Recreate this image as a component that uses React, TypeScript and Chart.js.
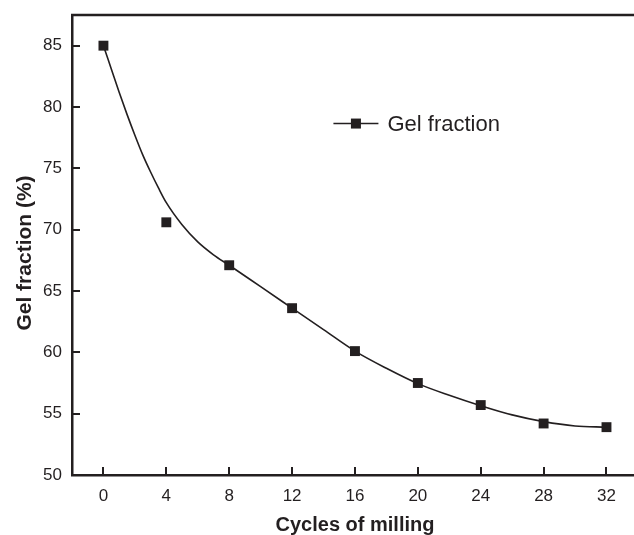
import React, { useEffect, useRef } from "react";
import { Chart, registerables } from "chart.js";

Chart.register(...registerables);

// Measured points
const cycles = [0, 4, 8, 12, 16, 20, 24, 28, 32];
const gelFraction = [85, 70.6, 67.1, 63.6, 60.1, 57.5, 55.7, 54.2, 53.9];

// Fitted curve
const curveX = [0, 0.5, 1, 1.5, 2, 2.5, 3, 3.5, 4, 5, 6, 7, 8, 10, 12, 14, 16, 18, 20, 22, 24, 26, 28, 30, 32];
const curveY = [85, 83.1, 81.2, 79.4, 77.7, 76.1, 74.7, 73.4, 72.2, 70.4, 69.0, 67.95, 67.1, 65.35, 63.6, 61.85, 60.1, 58.7, 57.45, 56.5, 55.65, 54.9, 54.35, 54.0, 53.9];

const xTicks = [0, 4, 8, 12, 16, 20, 24, 28, 32];
const yTicks = [50, 55, 60, 65, 70, 75, 80, 85];

const xTitle = "Cycles of milling";
const yTitle = "Gel fraction (%)";
const legendLabel = "Gel fraction";

const INK = "#231f20";
const FONT = "'Liberation Sans', Arial, sans-serif";

export default function App() {
  const ref = useRef<HTMLCanvasElement>(null);

  useEffect(() => {
    if (!ref.current) return;
    const frame = {
      id: "frame",
      afterDraw(chart: any) {
        const { ctx, chartArea } = chart;
        const xs = chart.scales.x;
        const ys = chart.scales.y;
        ctx.save();
        ctx.strokeStyle = INK;
        ctx.fillStyle = INK;
        ctx.lineWidth = 2.5;
        ctx.beginPath();
        ctx.moveTo(chartArea.left - 1, chartArea.top);
        ctx.lineTo(chartArea.right + 2, chartArea.top);
        ctx.stroke();
        ctx.lineWidth = 2;
        ctx.beginPath();
        for (const v of xTicks) {
          const px = Math.round(xs.getPixelForValue(v));
          ctx.moveTo(px, chartArea.bottom);
          ctx.lineTo(px, chartArea.bottom - 8);
        }
        for (const v of yTicks) {
          const py = Math.round(ys.getPixelForValue(v));
          ctx.moveTo(chartArea.left, py);
          ctx.lineTo(chartArea.left + 8, py);
        }
        ctx.stroke();
        // legend
        const lx = xs.getPixelForValue(14.63);
        const ly = ys.getPixelForValue(78.65);
        ctx.lineWidth = 1.5;
        ctx.beginPath();
        ctx.moveTo(lx, ly);
        ctx.lineTo(lx + 45, ly);
        ctx.stroke();
        ctx.fillRect(lx + 22.5 - 5, ly - 5, 10, 10);
        ctx.font = `22px ${FONT}`;
        ctx.textBaseline = "middle";
        ctx.textAlign = "left";
        ctx.fillText(legendLabel, lx + 54, ly + 1);
        // axis titles
        ctx.font = `bold 20px ${FONT}`;
        ctx.textAlign = "center";
        ctx.fillText(xTitle, (chartArea.left + chartArea.right) / 2 + 2, 525);
        ctx.save();
        ctx.translate(25, ys.getPixelForValue(68.1));
        ctx.rotate(-Math.PI / 2);
        ctx.font = `bold 21px ${FONT}`;
        ctx.fillText(yTitle, 0, 0);
        ctx.restore();
        ctx.restore();
      },
    };

    const chart = new Chart(ref.current, {
      type: "scatter",
      data: {
        datasets: [
          {
            label: "fit",
            data: curveX.map((x, i) => ({ x, y: curveY[i] })),
            showLine: true,
            borderColor: INK,
            borderWidth: 1.6,
            pointRadius: 0,
            cubicInterpolationMode: "monotone",
            order: 2,
          },
          {
            label: legendLabel,
            data: cycles.map((x, i) => ({ x, y: gelFraction[i] })),
            showLine: false,
            pointStyle: "rect",
            pointRadius: 7,
            backgroundColor: INK,
            borderColor: INK,
            borderWidth: 0,
            order: 1,
          },
        ],
      },
      options: {
        responsive: false,
        animation: false,
        layout: { autoPadding: false, padding: { top: 15, right: 0, left: 0, bottom: 0 } },
        plugins: { legend: { display: false }, tooltip: { enabled: false } },
        scales: {
          x: {
            type: "linear",
            min: -2,
            max: 33.75,
            afterBuildTicks: (s: any) => {
              s.ticks = xTicks.map((v) => ({ value: v }));
            },
            afterFit: (s: any) => {
              s.height = 60;
              s.paddingLeft = 0;
              s.paddingRight = 0;
            },
            grid: { display: false, drawTicks: false },
            border: { display: true, color: INK, width: 2.5 },
            ticks: {
              color: INK,
              font: { family: FONT, size: 17 },
              padding: 11,
              maxRotation: 0,
            },
          },
          y: {
            type: "linear",
            min: 50,
            max: 87.5,
            afterBuildTicks: (s: any) => {
              s.ticks = yTicks.map((v) => ({ value: v }));
            },
            afterFit: (s: any) => {
              s.width = 72;
              s.paddingTop = 0;
              s.paddingBottom = 0;
            },
            grid: { display: false, drawTicks: false },
            border: { display: true, color: INK, width: 2.5 },
            ticks: {
              color: INK,
              font: { family: FONT, size: 17 },
              padding: 10,
            },
          },
        },
      },
      plugins: [frame],
    } as any);
    return () => chart.destroy();
  }, []);

  return (
    <div style={{ position: "absolute", left: 0, top: 0, width: 634, height: 535, background: "#fff" }}>
      <canvas ref={ref} width={634} height={535} />
    </div>
  );
}
